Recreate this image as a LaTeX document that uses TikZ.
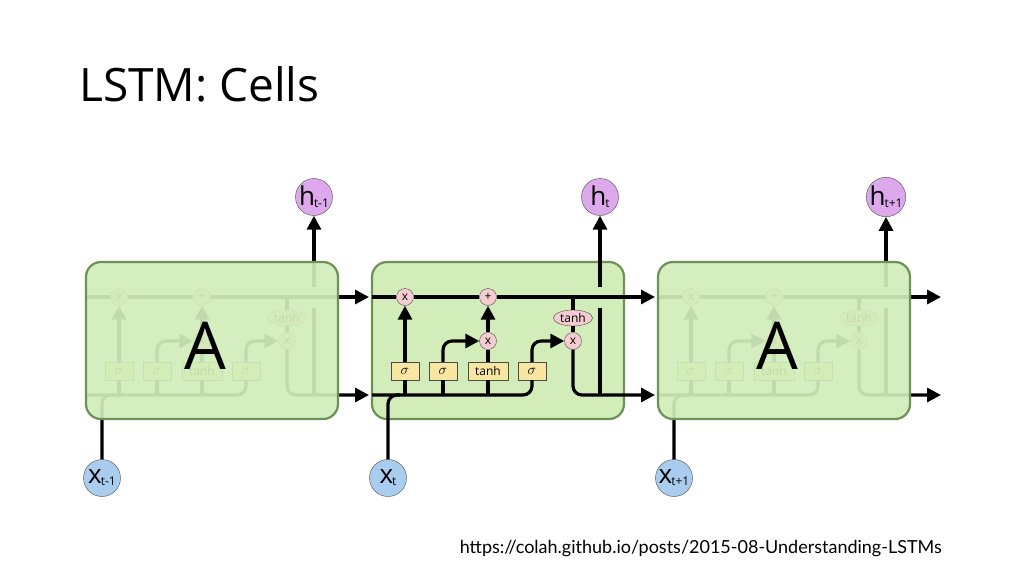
\documentclass[tikz,border=0pt]{standalone}
\usepackage{fontspec}
\setmainfont{Open Sans}
\newfontfamily\urlfont{Lato}
\usetikzlibrary{arrows.meta,shapes.geometric}
\definecolor{boxgreen}{HTML}{D2EDBA}
\definecolor{boxedge}{HTML}{6E9255}
\definecolor{gatepink}{HTML}{F4CCD2}
\definecolor{layeryel}{HTML}{F7E7A0}
\definecolor{hpurple}{HTML}{DDA8EC}
\definecolor{xblue}{HTML}{A9CDEE}
\tikzset{
  wire/.style={line width=3.2pt},
  arr/.style={wire,-{Triangle[length=14pt,width=14pt]}},
  gate/.style={circle,draw=black!70,fill=gatepink,inner sep=0pt,minimum size=17pt,font=\fontsize{12}{12}\selectfont},
  layer/.style={rectangle,draw=black!70,fill=layeryel,minimum height=18pt,minimum width=28pt,inner sep=1pt,font=\fontsize{15}{15}\selectfont},
  tanhe/.style={ellipse,draw=black!70,fill=gatepink,inner sep=1pt,minimum width=38pt,minimum height=16pt,font=\fontsize{12}{12}\selectfont},
  hnode/.style={circle,draw=black!70,fill=hpurple,minimum size=37pt,inner sep=0pt,font=\fontsize{26}{26}\selectfont},
  xnode/.style={circle,draw=black!70,fill=xblue,minimum size=37pt,inner sep=0pt,font=\fontsize{26}{26}\selectfont},
  cellbox/.style={draw=boxedge,line width=2.2pt,fill=boxgreen,rounded corners=15pt},
}
% one cell: gates, layers and wires, input and output
\newcommand\cellparts[1]{%
  \node[gate] (fx) at (405,297) {x};
  \node[gate] (add) at (488,297) {+};
  \node[gate] (ix) at (488,341) {x};
  \node[gate] (ox) at (573,341) {x};
  \node[tanhe] (ct) at (573,318) {tanh};
  \node[layer] (s1) at (405,371) {$\sigma$};
  \node[layer] (s2) at (443,371) {$\sigma$};
  \node[layer,minimum width=40pt,font=\fontsize{12}{12}\selectfont] (s3) at (488,371) {tanh};
  \node[layer] (s4) at (532,371) {$\sigma$};
  \node[hnode] (h) at (600,197) {h\kern-1pt\raisebox{-2pt}{\fontsize{12}{12}\selectfont #1}};
  \node[xnode] (x) at (388,478) {x\kern-1pt\raisebox{-2pt}{\fontsize{12}{12}\selectfont #1}};
  \coordinate (cin) at (372,297);
  \coordinate (cout) at (655,297);
  \coordinate (hin) at (372,395);
  \coordinate (hout) at (655,395);
  % cell state
  \draw[arr] (cin) -- (fx) -- (add) -- (cout);
  % hidden state in
  \draw[wire,rounded corners=9pt] (hin) -| (s4.south);
  \draw[wire,rounded corners=9pt] (x.north) |- (400,395);
  \draw[wire] (s1.south) -- (405,395);
  \draw[wire] (s2.south) -- (443,395);
  \draw[wire] (s3.south) -- (488,395);
  % gates
  \draw[arr] (s1) -- (fx);
  \draw[arr,rounded corners=9pt] (s2.north) |- (ix.west);
  \draw[wire] (s3) -- (ix);
  \draw[arr] (ix) -- (add);
  \draw[arr,rounded corners=9pt] (s4.north) |- (ox.west);
  \draw[wire] (573,297) -- (ct);
  \draw[wire] (ct) -- (ox);
  \draw[arr,rounded corners=9pt] (ox.south) |- (hout);
  % output
  \draw[wire] (600,395) -- (600,308);
  \draw[arr] (600,287) -- (h.south);
}
\begin{document}
\begin{tikzpicture}[x=1pt,y=-1pt]
  \useasboundingbox[fill=white] (0,0) rectangle (1024,575);
  \node[anchor=base west,font=\fontsize{46}{52}\selectfont,inner sep=0pt] (title) at (79,102) {LSTM: Cells};

  % ---- left cell (faded) ----
  \begin{scope}[xshift=-286pt,name prefix=L-]
    \cellparts{t-1}
    \draw[cellbox,fill opacity=0.92] (372,262) rectangle (624,419);
    \node[font=\fontsize{66}{66}\selectfont] (lbl) at (491,346) {A};
  \end{scope}

  % ---- middle cell ----
  \begin{scope}[name prefix=M-]
    \draw[cellbox] (372,262) rectangle (624,419);
    \cellparts{t}
  \end{scope}

  % ---- right cell (faded) ----
  \begin{scope}[xshift=286pt,name prefix=R-]
    \cellparts{t+1}
    \draw[cellbox,fill opacity=0.92] (372,262) rectangle (624,419);
    \node[font=\fontsize{66}{66}\selectfont] (lbl) at (491,346) {A};
  \end{scope}

  \node[anchor=base east,font=\urlfont\fontsize{18}{20}\selectfont,inner sep=0pt] (src) at (942,553) {https://colah.github.io/posts/2015-08-Understanding-LSTMs};
\end{tikzpicture}
\end{document}
